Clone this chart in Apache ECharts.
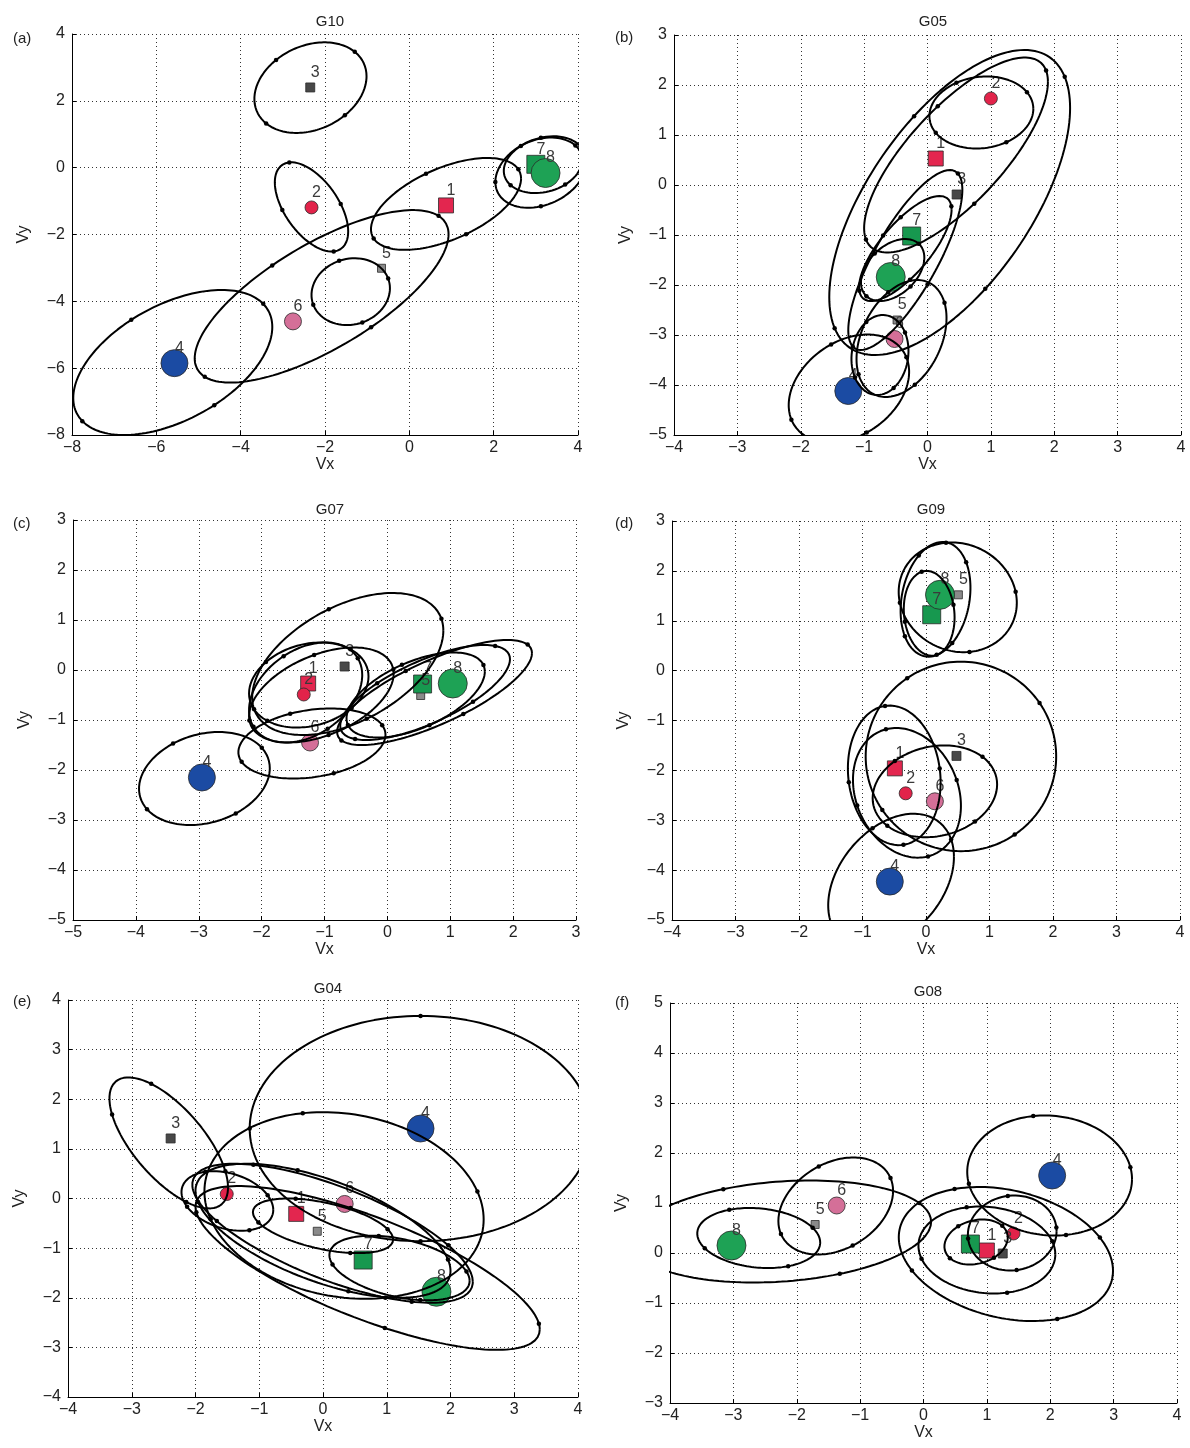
<!DOCTYPE html>
<html>
<head>
<meta charset="utf-8">
<script src="https://cdn.jsdelivr.net/npm/echarts@6/dist/echarts.min.js"></script>
<style>
  html, body { margin: 0; padding: 0; background: #ffffff; }
  #chart { width: 1190px; height: 1448px; }
</style>
</head>
<body>
<div id="chart"></div>
<script>
// ---- Panel descriptions -------------------------------------------------
const panelTitles = ['G10', 'G05', 'G07', 'G09', 'G04', 'G08'];
const panelTags = ['(a)', '(b)', '(c)', '(d)', '(e)', '(f)'];
const xLimits = [[-8, 4], [-4, 4], [-5, 3], [-4, 4], [-4, 4], [-4, 4]];
const yLimits = [[-8, 4], [-5, 3], [-5, 3], [-5, 3], [-4, 4], [-3, 5]];
const tickSteps = [2, 1, 1, 1, 1, 1];

// ---- Group means: [group id, Vx, Vy] -----------------------------------
const pointsG10 = [[1, 0.87, -1.13], [2, -2.32, -1.19], [3, -2.35, 2.40], [4, -5.57, -5.85],
                   [5, -0.66, -3.01], [6, -2.76, -4.60], [7, 3.00, 0.10], [8, 3.23, -0.16]];
const pointsG05 = [[1, 0.13, 0.53], [2, 1.00, 1.73], [3, 0.46, -0.19], [4, -1.25, -4.12],
                   [5, -0.48, -2.70], [6, -0.52, -3.08], [7, -0.25, -1.02], [8, -0.58, -1.84]];
const pointsG07 = [[1, -1.26, -0.27], [2, -1.33, -0.49], [3, -0.68, 0.07], [4, -2.95, -2.15],
                   [5, 0.53, -0.51], [6, -1.23, -1.45], [7, 0.56, -0.28], [8, 1.04, -0.27]];
const pointsG09 = [[1, -0.49, -1.96], [2, -0.32, -2.46], [3, 0.48, -1.71], [4, -0.57, -4.23],
                   [5, 0.51, 1.52], [6, 0.14, -2.62], [7, 0.09, 1.12], [8, 0.22, 1.52]];
const pointsG04 = [[1, -0.42, -0.31], [2, -1.51, 0.09], [3, -2.39, 1.21], [4, 1.53, 1.41],
                   [5, -0.09, -0.66], [6, 0.34, -0.11], [7, 0.63, -1.24], [8, 1.78, -1.88]];
const pointsG08 = [[1, 1.00, 0.05], [2, 1.42, 0.39], [3, 1.25, -0.01], [4, 2.03, 1.55],
                   [5, -1.71, 0.57], [6, -1.37, 0.95], [7, 0.74, 0.18], [8, -3.03, 0.15]];

// ---- Spread ellipses: [centre Vx, centre Vy, half-width, half-height, correlation, dot phase]
const ellipsesG10 = [[-2.345, 2.395, 1.33, 1.355, 0.25, 0.66],
                     [-2.32, -1.175, 0.87, 1.335, -0.55, 0.65],
                     [0.87, -1.085, 1.78, 1.375, 0.55, 0.27],
                     [-1.39, -3.71, 0.93, 1.00, 0.10, 0.30],
                     [-2.08, -3.85, 3.01, 2.58, 0.72, 0.40],
                     [-5.61, -5.83, 2.36, 2.17, 0.49, 0.43],
                     [3.12, -0.13, 1.08, 1.07, 0.28, 0.00],
                     [3.17, 0.07, 0.93, 0.83, 0.20, 0.60]];
const ellipsesG05 = [[0.85, 1.45, 0.82, 0.72, 0.10, 0.50],
                     [0.35, -0.35, 1.90, 3.05, 0.62, 0.30],
                     [0.45, 0.60, 1.45, 1.95, 0.75, 0.20],
                     [-0.35, -1.50, 0.90, 1.80, 0.78, 0.40],
                     [-0.35, -1.27, 0.73, 1.05, 0.74, 0.10],
                     [-0.55, -1.70, 0.50, 0.62, 0.40, 0.60],
                     [-0.41, -3.07, 0.71, 1.17, 0.35, 0.30],
                     [-0.75, -3.40, 0.45, 0.80, 0.10, 0.50],
                     [-1.24, -4.07, 0.95, 1.08, 0.31, 0.30]];
const ellipsesG07 = [[-2.91, -2.17, 1.04, 0.93, 0.22, 0.50],
                     [-1.20, -1.47, 1.17, 0.70, 0.25, 0.30],
                     [-0.63, 0.12, 1.52, 1.42, 0.47, 0.20],
                     [-1.25, -0.30, 0.95, 0.85, 0.20, 0.80],
                     [-1.30, -0.45, 0.90, 1.00, 0.35, 0.40],
                     [-1.05, -0.50, 1.15, 0.95, 0.45, 0.10],
                     [0.75, -0.45, 1.55, 1.05, 0.75, 0.30],
                     [0.60, -0.45, 1.35, 0.95, 0.70, 0.60],
                     [0.45, -0.50, 1.10, 0.85, 0.55, 0.20]];
const ellipsesG09 = [[0.50, 1.47, 0.93, 1.10, -0.10, 0.20],
                     [0.15, 1.43, 0.55, 1.15, 0.20, 0.50],
                     [0.05, 1.15, 0.40, 0.85, -0.10, 0.30],
                     [0.55, -1.72, 1.50, 1.90, 0.00, 0.60],
                     [-0.50, -2.10, 0.73, 1.40, -0.10, 0.20],
                     [-0.30, -2.45, 0.85, 1.30, -0.20, 0.40],
                     [0.14, -2.42, 0.98, 0.92, 0.15, 0.70],
                     [-0.55, -4.22, 0.99, 1.35, 0.36, 0.30]];
const ellipsesG04 = [[-2.42, 1.12, 0.93, 1.32, -0.68, 0.30],
                     [1.53, 1.41, 2.68, 2.27, 0.00, 0.00],
                     [0.33, -0.14, 2.19, 1.88, -0.15, 0.30],
                     [-1.50, -0.05, 0.72, 0.60, -0.30, 0.50],
                     [0.00, -0.55, 1.10, 0.55, -0.50, 0.40],
                     [0.00, -0.65, 2.00, 1.35, -0.60, 0.20],
                     [0.15, -0.70, 2.20, 1.40, -0.70, 0.60],
                     [1.20, -1.40, 1.10, 0.65, -0.40, 0.30],
                     [0.70, -1.40, 2.70, 1.65, -0.75, 0.10]];
const ellipsesG08 = [[-2.24, 0.43, 2.36, 1.02, 0.19, 0.40],
                     [-2.60, 0.30, 0.97, 0.60, -0.15, 0.50],
                     [-1.385, 0.94, 0.905, 0.97, 0.31, 0.30],
                     [1.99, 1.55, 1.30, 1.20, -0.06, 0.20],
                     [0.83, 0.22, 0.50, 0.45, 0.20, 0.60],
                     [1.40, 0.40, 0.70, 0.75, 0.05, 0.10],
                     [1.00, 0.06, 1.08, 0.87, -0.10, 0.30],
                     [1.30, -0.02, 1.69, 1.34, -0.25, 0.50]];

const panelPoints = [pointsG10, pointsG05, pointsG07, pointsG09, pointsG04, pointsG08];
const panelEllipses = [ellipsesG10, ellipsesG05, ellipsesG07, ellipsesG09, ellipsesG04, ellipsesG08];

// ---- Layout and styles --------------------------------------------------
const gridBoxes = [
  { left: 72, top: 34, width: 506, height: 401 },
  { left: 674, top: 35, width: 507, height: 400 },
  { left: 73, top: 520, width: 503, height: 400 },
  { left: 672, top: 521, width: 508, height: 399 },
  { left: 68, top: 1000, width: 510, height: 397 },
  { left: 670, top: 1003, width: 507, height: 400 }
];
const titleSpots = [[325, 9], [928, 9], [325, 497], [926, 497], [323, 976], [923, 979]];
const tagSpots = [[8, 26], [610, 25], [8, 511], [610, 511], [8, 989], [610, 990]];

const groupStyle = {
  1: { symbol: 'rect', size: 15, color: '#e3264f' },
  2: { symbol: 'circle', size: 13, color: '#e2234a' },
  3: { symbol: 'rect', size: 9, color: '#484848' },
  4: { symbol: 'circle', size: 27, color: '#1b4ba3' },
  5: { symbol: 'rect', size: 8, color: '#8a8a8a' },
  6: { symbol: 'circle', size: 17, color: '#d46f98' },
  7: { symbol: 'rect', size: 18, color: '#17984f' },
  8: { symbol: 'circle', size: 29, color: '#1ea255' }
};

const FONT = '"Liberation Sans", Arial, Helvetica, sans-serif';
const minus = v => String(v).replace('-', '\u2212');

function ellipseOutline(e) {
  const [cx, cy, rx, ry, rho] = e;
  const phi = Math.asin(rho);
  const n = 160;
  const pts = [];
  for (let k = 0; k <= n; k++) {
    const t = 2 * Math.PI * k / n;
    pts.push([cx + rx * Math.cos(t), cy + ry * Math.sin(t + phi)]);
  }
  return pts;
}
function ellipseDots(e) {
  const [cx, cy, rx, ry, rho, phase] = e;
  const phi = Math.asin(rho);
  const pts = [];
  for (let k = 0; k < 4; k++) {
    const t = phase + k * Math.PI / 2;
    pts.push([cx + rx * Math.cos(t), cy + ry * Math.sin(t + phi)]);
  }
  return pts;
}

const grid = [], xAxis = [], yAxis = [], series = [], title = [];
const gridLine = { show: true, lineStyle: { color: '#333', width: 1, type: [1, 3] } };

gridBoxes.forEach((box, i) => {
  grid.push(Object.assign({ containLabel: false }, box));

  xAxis.push({
    type: 'value', gridIndex: i,
    min: xLimits[i][0], max: xLimits[i][1], interval: tickSteps[i],
    name: 'Vx', nameLocation: 'middle', nameGap: 21,
    nameTextStyle: { fontFamily: FONT, fontSize: 16, color: '#222' },
    axisLine: { show: true, onZero: false, lineStyle: { color: '#000', width: 1 } },
    axisTick: { show: true, inside: true, length: 4, lineStyle: { color: '#000' } },
    axisLabel: { formatter: minus, fontFamily: FONT, fontSize: 16, color: '#222', margin: 5 },
    splitLine: gridLine
  });
  yAxis.push({
    type: 'value', gridIndex: i,
    min: yLimits[i][0], max: yLimits[i][1], interval: tickSteps[i],
    name: 'Vy', nameLocation: 'middle', nameGap: 40,
    nameTextStyle: { fontFamily: FONT, fontSize: 16, color: '#222' },
    axisLine: { show: true, onZero: false, lineStyle: { color: '#000', width: 1 } },
    axisTick: { show: true, inside: true, length: 4, lineStyle: { color: '#000' } },
    axisLabel: { formatter: minus, fontFamily: FONT, fontSize: 16, color: '#222', margin: 7 },
    splitLine: gridLine
  });

  title.push({
    text: panelTitles[i], left: titleSpots[i][0], top: titleSpots[i][1], textAlign: 'center',
    textStyle: { fontFamily: FONT, fontSize: 15, fontWeight: 'normal', color: '#222' }
  });
  title.push({
    text: panelTags[i], left: tagSpots[i][0], top: tagSpots[i][1],
    textStyle: { fontFamily: FONT, fontSize: 15, fontWeight: 'normal', color: '#222' }
  });

  // group means
  series.push({
    type: 'scatter', xAxisIndex: i, yAxisIndex: i, z: 2, silent: true,
    data: panelPoints[i].map(p => {
      const s = groupStyle[p[0]];
      return {
        value: [p[1], p[2]],
        symbol: s.symbol, symbolSize: s.size,
        itemStyle: { color: s.color, opacity: 1, borderColor: '#2a2a2a', borderWidth: 0.8 },
        label: {
          show: true, formatter: String(p[0]), position: 'inside', offset: [5, -15],
          fontFamily: FONT, fontSize: 16, color: '#3a3a3a'
        }
      };
    })
  });

  // spread ellipses
  panelEllipses[i].forEach(e => {
    series.push({
      type: 'line', xAxisIndex: i, yAxisIndex: i, z: 3, silent: true,
      data: ellipseOutline(e), showSymbol: false, symbol: 'none', smooth: false,
      lineStyle: { color: '#000', width: 2 }, clip: true
    });
  });
  series.push({
    type: 'scatter', xAxisIndex: i, yAxisIndex: i, z: 4, silent: true,
    data: [].concat(...panelEllipses[i].map(ellipseDots)),
    symbol: 'circle', symbolSize: 4.5, itemStyle: { color: '#000', opacity: 1 }
  });
});

const chart = echarts.init(document.getElementById('chart'), null, { renderer: 'canvas' });
chart.setOption({
  animation: false,
  backgroundColor: '#ffffff',
  title, grid, xAxis, yAxis, series
});
</script>
</body>
</html>
